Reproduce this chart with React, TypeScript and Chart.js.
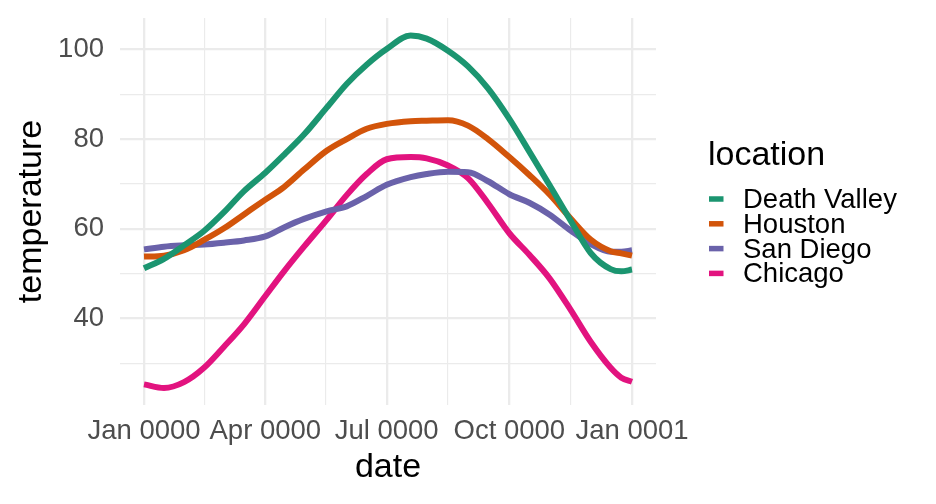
import React, { useEffect, useRef } from 'react';
import { Chart, registerables } from 'chart.js';

Chart.register(...registerables);

const FONT = '"Liberation Sans", Arial, sans-serif';

// day of year (year 0000, leap year)
const days = [0, 15, 30, 45, 60, 75, 91, 105, 120, 137, 152, 167, 182, 200, 212, 228, 243, 258, 274, 289, 304, 320, 335, 350, 358, 366];

const deathValley = [51.2, 53.3, 56.3, 59.5, 63.7, 68.4, 72.5, 76.5, 81.0, 87.0, 92.3, 96.6, 100.1, 103.1, 102.4, 99.7, 96.2, 91.3, 84.5, 77.2, 69.8, 61.8, 54.6, 51.0, 50.5, 50.9];
const houston = [53.8, 54.0, 55.2, 57.5, 60.1, 63.2, 66.5, 69.3, 73.2, 77.4, 80.0, 82.3, 83.4, 84.0, 84.1, 84.2, 83.0, 80.0, 76.0, 72.0, 67.7, 62.3, 57.6, 55.0, 54.5, 54.0];
const sanDiego = [55.4, 56.0, 56.3, 56.5, 56.9, 57.4, 58.3, 60.3, 62.2, 63.9, 65.0, 67.3, 69.8, 71.5, 72.2, 72.7, 72.6, 70.6, 67.7, 65.8, 63.2, 59.6, 56.6, 54.9, 54.9, 55.2];
const chicago = [25.3, 24.5, 25.8, 29.0, 33.7, 38.7, 45.0, 50.5, 56.0, 62.0, 67.5, 72.2, 75.5, 76.0, 75.7, 74.1, 71.3, 65.7, 59.0, 54.2, 49.0, 41.9, 34.8, 29.0, 26.8, 25.9];

const seriesNames = ['Death Valley', 'Houston', 'San Diego', 'Chicago'];
const seriesValues = [deathValley, houston, sanDiego, chicago];
const seriesColors = ['#1B9570', '#D2540A', '#6A62AA', '#E2137F'];

const xTickValues = [0, 91, 182, 274, 366];
const xTickLabels = ['Jan 0000', 'Apr 0000', 'Jul 0000', 'Oct 0000', 'Jan 0001'];
const xMinorValues = [45.5, 136.5, 228, 320];
const yTickValues = [40, 60, 80, 100];
const yMinorValues = [30, 50, 70, 90];

const legendTitle = 'location';
const xTitle = 'date';
const yTitle = 'temperature';

const legendPlugin = {
  id: 'ggLegend',
  afterDraw(chart: any) {
    const ctx = chart.ctx;
    ctx.save();
    ctx.fillStyle = '#000000';
    ctx.font = `34px ${FONT}`;
    ctx.textAlign = 'left';
    ctx.textBaseline = 'alphabetic';
    ctx.fillText(legendTitle, 708, 165);
    chart.data.datasets.forEach((ds: any, i: number) => {
      const cy = 199 + i * 24.8;
      ctx.fillStyle = ds.borderColor;
      ctx.fillRect(709, cy - 2.75, 14.5, 5.5);
      ctx.fillStyle = '#000000';
      ctx.font = `27.5px ${FONT}`;
      ctx.textBaseline = 'middle';
      ctx.fillText(ds.label, 743, cy + 1.5);
    });
    ctx.restore();
  },
};

export default function App() {
  const ref = useRef<HTMLCanvasElement | null>(null);

  useEffect(() => {
    if (!ref.current) return;
    const datasets = seriesNames.map((name, i) => ({
      label: name,
      data: days.map((d, j) => ({ x: d, y: seriesValues[i][j] })),
      borderColor: seriesColors[i],
      backgroundColor: seriesColors[i],
      borderWidth: 6,
      pointRadius: 0,
      cubicInterpolationMode: 'monotone' as const,
      fill: false,
    }));

    const chart = new Chart(ref.current, {
      type: 'line',
      data: { datasets },
      plugins: [legendPlugin],
      options: {
        animation: false,
        responsive: false,
        devicePixelRatio: 1,
        layout: { padding: { left: 0, top: 18, right: 280, bottom: 0 } },
        plugins: {
          legend: { display: false },
          tooltip: { enabled: false },
        },
        scales: {
          x: {
            type: 'linear',
            min: -18,
            max: 384,
            afterBuildTicks: (scale: any) => {
              scale.ticks = [...xTickValues, ...xMinorValues]
                .sort((a, b) => a - b)
                .map((v) => ({ value: v }));
            },
            afterFit: (scale: any) => {
              scale.height = 99;
              scale.paddingLeft = 0;
              scale.paddingRight = 0;
            },
            ticks: {
              autoSkip: false,
              maxRotation: 0,
              minRotation: 0,
              padding: 10,
              color: '#4D4D4D',
              font: { family: FONT, size: 27.5 },
              callback: (value: any) => {
                const k = xTickValues.indexOf(Number(value));
                return k >= 0 ? xTickLabels[k] : '';
              },
            },
            grid: {
              color: '#EBEBEB',
              lineWidth: (ctx: any) =>
                ctx.tick && xTickValues.includes(ctx.tick.value) ? 2.3 : 1.15,
              drawTicks: false,
            },
            border: { display: false },
            title: {
              display: true,
              text: xTitle,
              color: '#000000',
              font: { family: FONT, size: 34 },
              padding: { top: 0, bottom: 16 },
            },
          },
          y: {
            type: 'linear',
            min: 20.7,
            max: 107.0,
            afterBuildTicks: (scale: any) => {
              scale.ticks = [...yTickValues, ...yMinorValues]
                .sort((a, b) => a - b)
                .map((v) => ({ value: v }));
            },
            afterFit: (scale: any) => {
              scale.width = 120;
              scale.paddingTop = 0;
              scale.paddingBottom = 0;
            },
            ticks: {
              autoSkip: false,
              padding: 16,
              color: '#4D4D4D',
              font: { family: FONT, size: 27.5 },
              callback: (value: any) =>
                yTickValues.includes(Number(value)) ? String(value) : '',
            },
            grid: {
              color: '#EBEBEB',
              lineWidth: (ctx: any) =>
                ctx.tick && yTickValues.includes(ctx.tick.value) ? 2.3 : 1.15,
              drawTicks: false,
            },
            border: { display: false },
            title: {
              display: true,
              text: yTitle,
              color: '#000000',
              font: { family: FONT, size: 34 },
              padding: { top: 11, bottom: 0 },
            },
          },
        },
      },
    });
    return () => chart.destroy();
  }, []);

  return (
    <div style={{ position: 'fixed', left: 0, top: 0, width: 936, height: 504, background: '#FFFFFF' }}>
      <canvas ref={ref} width={936} height={504} style={{ display: 'block', width: 936, height: 504 }} />
    </div>
  );
}
